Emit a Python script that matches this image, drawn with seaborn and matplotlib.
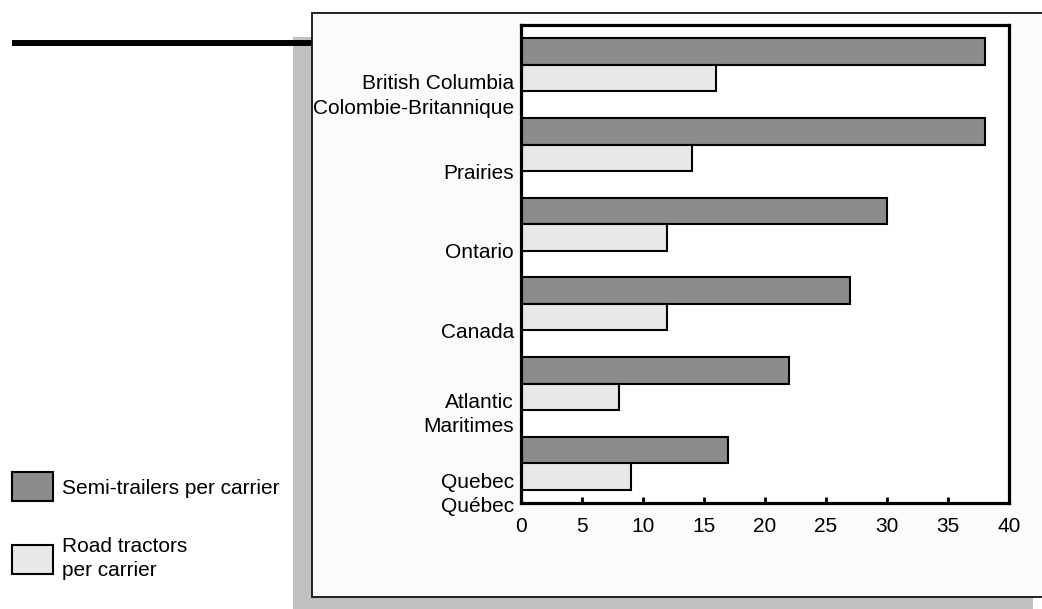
import matplotlib
matplotlib.use("Agg")
import matplotlib.pyplot as plt
from matplotlib.patches import Rectangle, Patch
from matplotlib.lines import Line2D
import seaborn as sns
import pandas as pd

# Fleet ratios per carrier by region
regions = [
    "British Columbia\nColombie-Britannique",
    "Prairies",
    "Ontario",
    "Canada",
    "Atlantic\nMaritimes",
    "Quebec\nQuébec",
]
semi_trailers = [38, 38, 30, 27, 22, 17]
road_tractors = [16, 14, 12, 12, 8, 9]
series_names = ["Semi-trailers per carrier", "Road tractors\nper carrier"]
x_ticks = [0, 5, 10, 15, 20, 25, 30, 35, 40]

df = pd.DataFrame({
    "region": regions * 2,
    "measure": [series_names[0]] * len(regions) + [series_names[1]] * len(regions),
    "value": semi_trailers + road_tractors,
})

sns.set_theme(style="white")
plt.rcParams["font.family"] = ["Liberation Sans", "DejaVu Sans"]
plt.rcParams["font.size"] = 15
plt.rcParams["text.color"] = "black"
plt.rcParams["xtick.color"] = "black"
plt.rcParams["ytick.color"] = "black"
plt.rcParams["xtick.labelcolor"] = "black"
plt.rcParams["ytick.labelcolor"] = "black"

FS = 15
W, H = 1042, 609
fig = plt.figure(figsize=(W / 100, H / 100), dpi=100)
fig.patch.set_facecolor("white")


def fx(px):
    return px / W


def fy(py):
    return 1 - py / H


# Drop shadow and framed panel behind the chart
fig.add_artist(Rectangle((fx(293), fy(609)), fx(1033) - fx(293), fy(37) - fy(609),
                         transform=fig.transFigure, facecolor="#c0c0c0",
                         edgecolor="none", zorder=0))
fig.add_artist(Line2D([fx(12), fx(313)], [fy(43), fy(43)], transform=fig.transFigure,
                      color="black", linewidth=4.3, solid_capstyle="butt", zorder=1))
fig.add_artist(Rectangle((fx(312), fy(597)), fx(1060) - fx(312), fy(13) - fy(597),
                         transform=fig.transFigure, facecolor="#fbfbfb",
                         edgecolor="#111111", linewidth=1.3, zorder=2))

ax = fig.add_axes([fx(521), fy(503), fx(1009) - fx(521), fy(25) - fy(503)])
ax.set_zorder(3)
ax.set_facecolor("white")

colors = ["#8c8c8c", "#e8e8e8"]
sns.barplot(data=df, x="value", y="region", hue="measure", hue_order=series_names,
            order=regions, orient="h", width=2 / 3, palette=colors,
            edgecolor="black", linewidth=1.5, ax=ax, legend=False)

ax.set_xlim(0, 40)
ax.set_ylim(len(regions) - 0.5, -0.5)
ax.set_xticks(x_ticks)
ax.set_xticklabels([str(t) for t in x_ticks], fontsize=FS)
ax.set_yticks([i + 1 / 3 for i in range(len(regions))])
ax.set_yticklabels(regions, fontsize=FS, linespacing=1.35)
ax.tick_params(axis="y", length=0, pad=5)
ax.tick_params(axis="x", direction="in", length=4, width=2, color="black", pad=10,
               bottom=True)
ax.set_xlabel("")
ax.set_ylabel("")
for side in ["left", "right", "top", "bottom"]:
    ax.spines[side].set_visible(True)
    ax.spines[side].set_color("black")
    ax.spines[side].set_linewidth(2.3)

handles = [Patch(facecolor=c, edgecolor="black", linewidth=1.5) for c in colors]
leg = fig.legend(handles, series_names, loc="upper left",
                 bbox_to_anchor=(fx(4), fy(464)), frameon=False, fontsize=FS,
                 handlelength=1.97, handleheight=1.76, handletextpad=0.4,
                 labelspacing=1.7, borderaxespad=0)
leg.set_zorder(4)
for t in leg.get_texts():
    t.set_linespacing(1.35)

fig.savefig("out.png", dpi=100)
